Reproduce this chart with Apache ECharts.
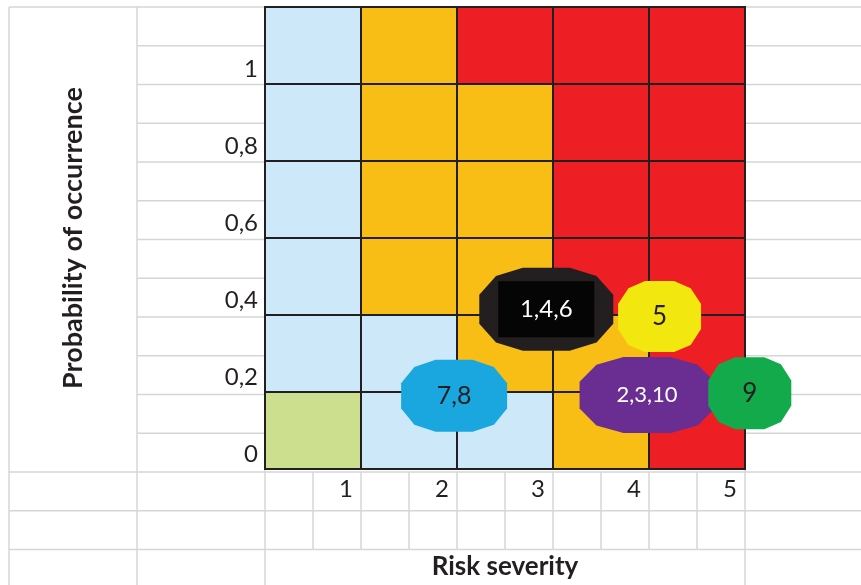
<!DOCTYPE html>
<html>
<head>
<meta charset="utf-8">
<script src="https://cdn.jsdelivr.net/npm/echarts@6/dist/echarts.min.js"></script>
<style>
html,body{margin:0;padding:0;background:#fff;}
#chart{width:861px;height:585px;}
</style>
</head>
<body>
<div id="chart"></div>
<script>
// 数据
var severity = [1, 2, 3, 4, 5];
var probRows = [0, 0.2, 0.4, 0.6, 0.8, 1];           // 每行下边界
var zoneRows = [                                      // 从下往上
	['G', 'B', 'B', 'O', 'R'],
	['B', 'B', 'O', 'O', 'R'],
	['B', 'O', 'O', 'R', 'R'],
	['B', 'O', 'O', 'R', 'R'],
	['B', 'O', 'O', 'R', 'R'],
	['B', 'O', 'R', 'R', 'R']
];
var yLabels = ['0', '0,2', '0,4', '0,6', '0,8', '1', ''];
var xLabels = ['', '1', '2', '3', '4', '5'];
var bubbleNames = ['7,8', '1,4,6', '5', '2,3,10', '9'];
var bubbleX = [1.97, 2.93, 4.11, 3.98, 5.05];
var bubbleY = [0.19, 0.415, 0.396, 0.192, 0.197];

// 样式
var zoneColor = { G: '#cbdf8e', B: '#cde9f9', O: '#f9be15', R: '#ed1f24' };
var bubbleStyle = [
	{ color: '#1aa7df', size: [106, 72], text: '#231f20', fs: 25 },
	{ color: '#231f20', size: [134, 83], text: '#ffffff', fs: 24 },
	{ color: '#f2e70f', size: [83, 71], text: '#231f20', fs: 26 },
	{ color: '#6a2d91', size: [135, 76], text: '#ffffff', fs: 22 },
	{ color: '#13aa4b', size: [83, 72], text: '#231f20', fs: 26 }
];
var blob = 'path://M-35,-100L35,-100L75,-80L100,-35L100,35L75,80L35,100L-35,100L-75,80L-100,35L-100,-35L-75,-80Z';
var font = 'Lato, "Open Sans", sans-serif';
var ink = '#231f20';
var sheet = '#d6d6d6';

var cells = [];
for (var r = 0; r < zoneRows.length; r++) {
	for (var c = 0; c < severity.length; c++) {
		cells.push([severity[c], probRows[r], zoneRows[r][c]]);
	}
}

// 表格背景线
var lines = [];
function hl(x1, x2, y) { lines.push({ type: 'line', shape: { x1: x1, y1: y, x2: x2, y2: y }, style: { stroke: sheet, lineWidth: 1.5 }, silent: true }); }
function vl(x, y1, y2) { lines.push({ type: 'line', shape: { x1: x, y1: y1, x2: x, y2: y2 }, style: { stroke: sheet, lineWidth: 1.5 }, silent: true }); }
for (var k = 0; k <= 14; k++) {
	var y = 7 + k * 38.75;
	if (k == 0 || k >= 12) {
		hl(9, 861, y);
	} else {
		hl(137, 265, y);
		hl(745, 861, y);
	}
}
vl(9, 7, 585); vl(137, 7, 585); vl(265, 7, 585); vl(745, 7, 585);
for (var j = 1; j < 10; j++) {
	vl(265 + j * 48, 472, 549);
}

var bubbleSeries = [];
for (var i = 0; i < bubbleNames.length; i++) {
	var st = bubbleStyle[i];
	bubbleSeries.push({
		type: 'scatter',
		clip: false,
		z: 5 + i,
		symbol: blob,
		symbolSize: st.size,
		itemStyle: { color: st.color, opacity: 1 },
		label: {
			show: i != 1,
			position: 'inside',
			formatter: bubbleNames[i],
			color: st.text,
			fontFamily: font,
			fontSize: st.fs
		},
		data: [[bubbleX[i], bubbleY[i]]]
	});
	if (i == 1) {
		bubbleSeries.push({
			type: 'scatter',
			clip: false,
			z: 5 + i,
			symbol: 'rect',
			symbolSize: [96, 56],
			itemStyle: { color: '#050505', opacity: 1 },
			label: {
				show: true,
				position: 'inside',
				formatter: bubbleNames[i],
				color: st.text,
				fontFamily: font,
				fontSize: st.fs
			},
			data: [[bubbleX[i], bubbleY[i]]]
		});
	}
}

var myChart = echarts.init(document.getElementById('chart'));
var option = {
	animation: false,
	backgroundColor: '#ffffff',
	graphic: lines,
	grid: { left: 265, right: 116, top: 7, bottom: 113 },
	xAxis: {
		type: 'value', min: 0, max: 5, interval: 1,
		name: 'Risk severity', nameLocation: 'middle', nameGap: 85,
		nameTextStyle: { fontFamily: font, fontSize: 26, fontWeight: 'bold', color: ink },
		axisLine: { show: false }, axisTick: { show: false }, splitLine: { show: false },
		axisLabel: {
			margin: 8, align: 'right', padding: [0, 8, 0, 0],
			fontFamily: font, fontSize: 24, color: ink,
			formatter: function (v, idx) { return xLabels[idx]; }
		}
	},
	yAxis: {
		type: 'value', min: 0, max: 1.2, interval: 0.2,
		name: 'Probability of occurrence', nameLocation: 'middle', nameGap: 178,
		nameTextStyle: { fontFamily: font, fontSize: 27, fontWeight: 'bold', color: ink },
		axisLine: { show: false }, axisTick: { show: false }, splitLine: { show: false },
		axisLabel: {
			margin: 7, verticalAlign: 'bottom', padding: [0, 0, 3, 0],
			fontFamily: font, fontSize: 24, color: ink,
			formatter: function (v, idx) { return yLabels[idx]; }
		}
	},
	series: [{
		type: 'custom',
		z: 2,
		renderItem: function (params, api) {
			var p0 = api.coord([api.value(0) - 1, api.value(1)]);
			var p1 = api.coord([api.value(0), api.value(1) + 0.2]);
			return {
				type: 'rect',
				shape: { x: p0[0], y: p1[1], width: p1[0] - p0[0], height: p0[1] - p1[1] },
				style: { fill: zoneColor[api.value(2)], stroke: ink, lineWidth: 2 }
			};
		},
		dimensions: ['sev', 'prob', { name: 'zone', type: 'ordinal' }],
		encode: { x: 0, y: 1 },
		data: cells
	}].concat(bubbleSeries)
};
myChart.setOption(option);
</script>
</body>
</html>
